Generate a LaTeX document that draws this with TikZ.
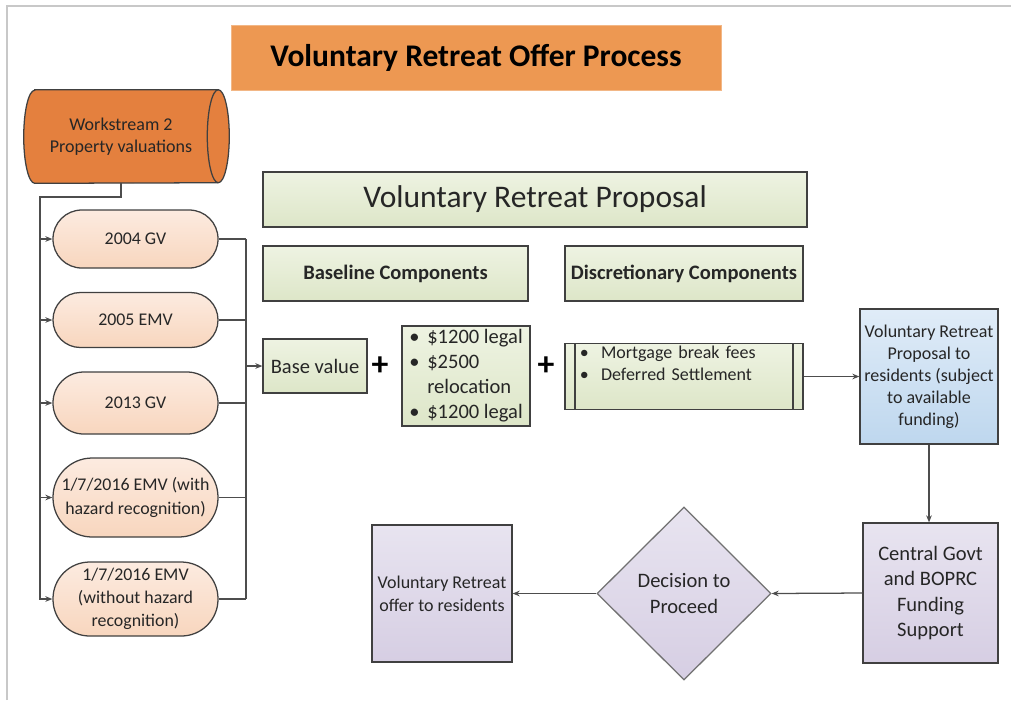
\documentclass[tikz,border=0pt]{standalone}
\usepackage{fontspec}
\setmainfont{Carlito}
\usetikzlibrary{shapes.geometric, arrows.meta, positioning, backgrounds}
\definecolor{linegray}{RGB}{77,77,77}
\definecolor{boxline}{RGB}{64,64,64}
\definecolor{framegray}{RGB}{200,200,200}
\definecolor{titleorange}{RGB}{237,152,82}
\definecolor{wsorange}{RGB}{228,128,62}
\definecolor{peachtop}{RGB}{252,235,224}
\definecolor{peachbot}{RGB}{248,214,190}
\definecolor{greentop}{RGB}{238,243,226}
\definecolor{greenbot}{RGB}{221,230,200}
\definecolor{bluetop}{RGB}{224,236,248}
\definecolor{bluebot}{RGB}{190,215,238}
\definecolor{purpletop}{RGB}{232,228,240}
\definecolor{purplebot}{RGB}{214,206,227}
\newcommand{\itemdot}[1]{\makebox[#1][l]{\textbullet}}
\tikzset{
  sz/.style 2 args={minimum width=#1*0.025cm, minimum height=#2*0.025cm},
  line/.style={draw=linegray, line width=0.9pt},
  arrow/.style={line, -{Stealth[length=5pt,width=4pt]}},
  greenbox/.style={rectangle, draw=boxline, line width=0.9pt, top color=greentop, bottom color=greenbot, align=center, inner sep=0pt, text=black!85},
  valbox/.style={rectangle, draw=boxline, line width=0.9pt, top color=peachtop, bottom color=peachbot, align=center, inner sep=0pt, sz={165}{#1}, rounded corners=#1*0.0124cm, font=\fontsize{12.7}{16.4}\selectfont, text=black!85},
  purplebox/.style={rectangle, draw=boxline, line width=0.9pt, top color=purpletop, bottom color=purplebot, align=center, inner sep=0pt, text=black!85},
}

\begin{document}
\begin{tikzpicture}[x=0.025cm, y=-0.025cm]
  \useasboundingbox (0,0) rectangle (1011,700);
  % Frame
  \draw[framegray, line width=1.4pt] (7,700) -- (7,6) -- (1011,6);
  % Title
  \node[rectangle, fill=titleorange, draw=titleorange!70!white, sz={490}{65}, font=\fontsize{22.4}{26}\selectfont\bfseries] (title) at (476,57.5) {Voluntary Retreat Offer Process};
  % Property valuations (drum drawn behind the node)
  \node[rectangle, sz={194}{93}, inner sep=0pt, align=center, font=\fontsize{12.8}{15.6}\selectfont, text=black!85] (ws) at (121,136.5) {Workstream 2\\Property valuations};
  \begin{scope}[on background layer]
    \draw[boxline, line width=0.9pt, fill=wsorange]
      ([xshift=0.275cm]ws.north west) -- (ws.north east)
      arc[start angle=90, end angle=-90, x radius=0.275cm, y radius=1.1625cm]
      -- ([xshift=0.275cm]ws.south west)
      arc[start angle=270, end angle=90, x radius=0.275cm, y radius=1.1625cm] -- cycle;
    \draw[boxline, line width=0.9pt] (ws.north east)
      arc[start angle=90, end angle=270, x radius=0.275cm, y radius=1.1625cm];
  \end{scope}
  \node[valbox=58] (gvA) at (135.5,239) {2004 GV};
  \node[valbox=55] (emvA) at (135.5,320) {2005 EMV};
  \node[valbox=62] (gvB) at (135.5,403) {2013 GV};
  \node[valbox=79] (emvB) at (135.5,497.5) {1/7/2016 EMV (with\\hazard recognition)};
  \node[valbox=74] (emvC) at (135.5,599) {1/7/2016 EMV\\(without hazard\\recognition)};
  % Proposal
  \node[greenbox, sz={544}{55}, font=\fontsize{22.4}{26}\selectfont] (prop) at (535,199.5) {Voluntary Retreat Proposal};
  \node[greenbox, sz={265}{55}, font=\fontsize{14.6}{17.8}\selectfont\bfseries] (base hdr) at (395.5,273.5) {Baseline Components};
  \node[greenbox, sz={238}{55}, font=\fontsize{14.6}{17.8}\selectfont\bfseries] (disc hdr) at (684,273.5) {Discretionary Components};
  \node[greenbox, sz={104}{54}, font=\fontsize{14.6}{17.8}\selectfont] (base) at (315,366) {Base value};
  \node[font=\fontsize{24}{24}\selectfont\bfseries] (plusA) at (380,366) {+};
  \node[greenbox, sz={128}{96}, font=\fontsize{14.6}{17.8}\selectfont] (bundle) at (466,376) {%
    \begin{tabular}{@{}l@{}l@{}}
      \itemdot{12.8pt} & \$1200 legal\\
      \itemdot{12.8pt} & \$2500\\
                       & relocation\\
      \itemdot{12.8pt} & \$1200 legal
    \end{tabular}};
  \node[font=\fontsize{24}{24}\selectfont\bfseries] (plusB) at (546,366) {+};
  \node[greenbox, sz={238}{63}, inner xsep=0.375cm, text width=5.2cm, align=left, font=\fontsize{12.8}{15.6}\selectfont,
        path picture={\draw[boxline, line width=0.9pt]
          ([xshift=0.25cm]path picture bounding box.north west) -- ([xshift=0.25cm]path picture bounding box.south west)
          ([xshift=-0.25cm]path picture bounding box.north east) -- ([xshift=-0.25cm]path picture bounding box.south east);}] (disc) at (684,376.5) {%
    \begin{tabular}{@{}l@{}l@{}}
      \itemdot{15pt} & Mortgage break fees\\
      \itemdot{15pt} & Deferred Settlement\\
                     & \\
    \end{tabular}};
  % Offer steps
  \node[rectangle, draw=boxline, line width=0.9pt, top color=bluetop, bottom color=bluebot, sz={138}{135}, inner sep=0pt, align=center, font=\fontsize{12.8}{15.6}\selectfont, text=black!85] (resprop) at (929,376.5) {Voluntary Retreat\\Proposal to\\residents (subject\\to available\\funding)};
  \node[purplebox, sz={135}{140}, font=\fontsize{14.6}{17.8}\selectfont] (funding) at (930.5,593) {Central Govt\\and BOPRC\\Funding\\Support};
  \node[diamond, draw=linegray!80, line width=0.9pt, top color=purpletop, bottom color=purplebot, sz={174}{173}, inner sep=0pt, align=center, font=\fontsize{14.6}{17.8}\selectfont, text=black!85] (decide) at (684,593.5) {Decision to\\Proceed};
  \node[purplebox, sz={140}{137}, font=\fontsize{12.8}{16.4}\selectfont] (offer) at (442,593.5) {Voluntary Retreat\\offer to residents};

  % Left bus
  \coordinate (busL) at (40,197);
  \draw[arrow] (ws.south) |- (busL) |- (emvC.west);
  \foreach \b in {gvA, emvA, gvB, emvB}
    \draw[arrow] (busL |- \b.west) -- (\b.west);
  % Right bus
  \coordinate (busR) at (246,366);
  \foreach \b in {gvA, emvA, gvB, emvB, emvC}
    \draw[line] (\b.east) -- (busR |- \b.east);
  \draw[line] (busR |- gvA.east) -- (busR |- emvC.east);
  \draw[arrow] (busR) -- (base.west);
  % Flow
  \draw[arrow] (disc.east) -- (resprop.west);
  \draw[arrow] (resprop.south) -- (resprop.south |- funding.north);
  \draw[arrow] (funding.west) -- (decide.east);
  \draw[arrow] (decide.west) -- (offer.east);
\end{tikzpicture}
\end{document}
